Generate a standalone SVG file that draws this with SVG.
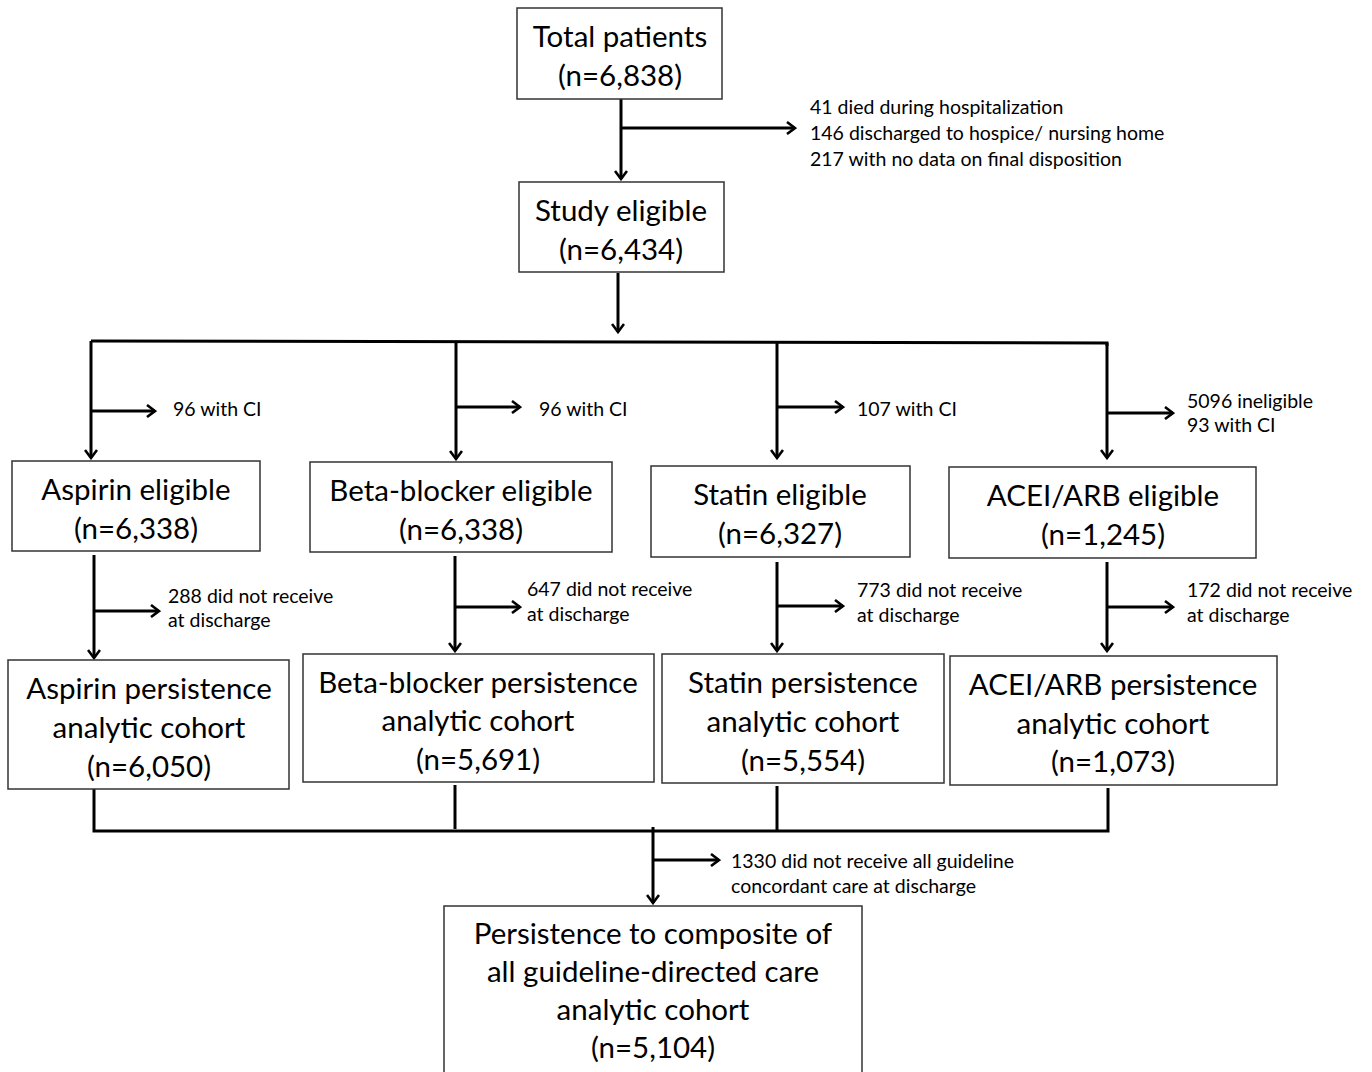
<svg xmlns="http://www.w3.org/2000/svg" width="1372" height="1072" viewBox="0 0 1372 1072">
<defs>
<marker id="ah" viewBox="0 0 12 14" refX="10" refY="7" markerWidth="12" markerHeight="14" markerUnits="userSpaceOnUse" orient="auto">
<path d="M2,1 L10,7 L2,13" fill="none" stroke="#000" stroke-width="2.6"/>
</marker>
<style>
.box{fill:#fff;stroke:#333;stroke-width:1.5}
.t{font-family:Lato,"Open Sans",sans-serif;font-size:29.5px;fill:#000;text-anchor:middle}
.s{font-family:Lato,"Open Sans",sans-serif;font-size:19.5px;fill:#000}
.c{fill:none;stroke:#000;stroke-width:3}
.a{fill:none;stroke:#000;stroke-width:3;marker-end:url(#ah)}
</style>
</defs>
<rect width="1372" height="1072" fill="#fff"/>
<g id="connectors">
<line class="a" x1="621" y1="99" x2="621" y2="179"/>
<line class="a" x1="621" y1="128" x2="795" y2="128"/>
<line class="a" x1="618" y1="273" x2="618" y2="332"/>
<polyline class="c" points="91,341 1107,343 1107,346"/>
<line class="a" x1="91" y1="341" x2="91" y2="458"/>
<line class="a" x1="91" y1="411" x2="155" y2="411"/>
<line class="a" x1="456" y1="342" x2="456" y2="459"/>
<line class="a" x1="456" y1="407" x2="520" y2="407"/>
<line class="a" x1="777" y1="343" x2="777" y2="458"/>
<line class="a" x1="777" y1="407" x2="843" y2="407"/>
<line class="a" x1="1107" y1="343" x2="1107" y2="458"/>
<line class="a" x1="1107" y1="413" x2="1173" y2="413"/>
<line class="a" x1="94" y1="555" x2="94" y2="658"/>
<line class="a" x1="94" y1="611" x2="159" y2="611"/>
<line class="a" x1="455" y1="556" x2="455" y2="651"/>
<line class="a" x1="455" y1="607" x2="520" y2="607"/>
<line class="a" x1="777" y1="562" x2="777" y2="651"/>
<line class="a" x1="777" y1="606" x2="843" y2="606"/>
<line class="a" x1="1107" y1="562" x2="1107" y2="651"/>
<line class="a" x1="1107" y1="607" x2="1173" y2="607"/>
<polyline class="c" points="94,789 94,831 1108,831 1108,788"/>
<line class="c" x1="455" y1="785" x2="455" y2="829"/>
<line class="c" x1="777" y1="786" x2="777" y2="831"/>
<line class="a" x1="653" y1="827" x2="653" y2="903"/>
<line class="a" x1="653" y1="860" x2="719" y2="860"/>
</g>
<g id="total">
<rect class="box" x="517" y="8" width="205" height="91"/>
<text class="t" x="620" y="47">Total patients</text>
<text class="t" x="620" y="86">(n=6,838)</text>
</g>
<g id="excl1">
<text class="s" x="810" y="114">41 died during hospitalization</text>
<text class="s" x="810" y="140">146 discharged to hospice/ nursing home</text>
<text class="s" x="810" y="166">217 with no data on final disposition</text>
</g>
<g id="study">
<rect class="box" x="519" y="182" width="205" height="90"/>
<text class="t" x="621" y="221">Study eligible</text>
<text class="t" x="621" y="260">(n=6,434)</text>
</g>
<g id="ci-labels">
<text class="s" x="173" y="416">96 with CI</text>
<text class="s" x="539" y="416">96 with CI</text>
<text class="s" x="857" y="416">107 with CI</text>
<text class="s" x="1187" y="408">5096 ineligible</text>
<text class="s" x="1187" y="432">93 with CI</text>
</g>
<g id="aspirin-elig">
<rect class="box" x="12" y="461" width="248" height="90"/>
<text class="t" x="136" y="500">Aspirin eligible</text>
<text class="t" x="136" y="539">(n=6,338)</text>
</g>
<g id="beta-elig">
<rect class="box" x="310" y="462" width="302" height="90"/>
<text class="t" x="461" y="501">Beta-blocker eligible</text>
<text class="t" x="461" y="540">(n=6,338)</text>
</g>
<g id="statin-elig">
<rect class="box" x="651" y="466" width="259" height="91"/>
<text class="t" x="780" y="505">Statin eligible</text>
<text class="t" x="780" y="544">(n=6,327)</text>
</g>
<g id="acei-elig">
<rect class="box" x="949" y="467" width="307" height="91"/>
<text class="t" x="1103" y="506">ACEI/ARB eligible</text>
<text class="t" x="1103" y="545">(n=1,245)</text>
</g>
<g id="discharge-labels">
<text class="s" x="168" y="603">288 did not receive</text>
<text class="s" x="168" y="627">at discharge</text>
<text class="s" x="527" y="596">647 did not receive</text>
<text class="s" x="527" y="621">at discharge</text>
<text class="s" x="857" y="597">773 did not receive</text>
<text class="s" x="857" y="622">at discharge</text>
<text class="s" x="1187" y="597">172 did not receive</text>
<text class="s" x="1187" y="622">at discharge</text>
</g>
<g id="aspirin-pers">
<rect class="box" x="8" y="660" width="281" height="129"/>
<text class="t" x="149" y="699">Aspirin persistence</text>
<text class="t" x="149" y="738">analytic cohort</text>
<text class="t" x="149" y="777">(n=6,050)</text>
</g>
<g id="beta-pers">
<rect class="box" x="303" y="654" width="351" height="128"/>
<text class="t" x="478" y="693">Beta-blocker persistence</text>
<text class="t" x="478" y="731">analytic cohort</text>
<text class="t" x="478" y="770">(n=5,691)</text>
</g>
<g id="statin-pers">
<rect class="box" x="662" y="654" width="282" height="129"/>
<text class="t" x="803" y="693">Statin persistence</text>
<text class="t" x="803" y="732">analytic cohort</text>
<text class="t" x="803" y="771">(n=5,554)</text>
</g>
<g id="acei-pers">
<rect class="box" x="950" y="656" width="327" height="129"/>
<text class="t" x="1113" y="695">ACEI/ARB persistence</text>
<text class="t" x="1113" y="734">analytic cohort</text>
<text class="t" x="1113" y="772">(n=1,073)</text>
</g>
<g id="excl-final">
<text class="s" x="731" y="868">1330 did not receive all guideline</text>
<text class="s" x="731" y="893">concordant care at discharge</text>
</g>
<g id="composite">
<rect class="box" x="444" y="906" width="418" height="180"/>
<text class="t" x="653" y="944">Persistence to composite of</text>
<text class="t" x="653" y="982">all guideline-directed care</text>
<text class="t" x="653" y="1020">analytic cohort</text>
<text class="t" x="653" y="1058">(n=5,104)</text>
</g>
</svg>
